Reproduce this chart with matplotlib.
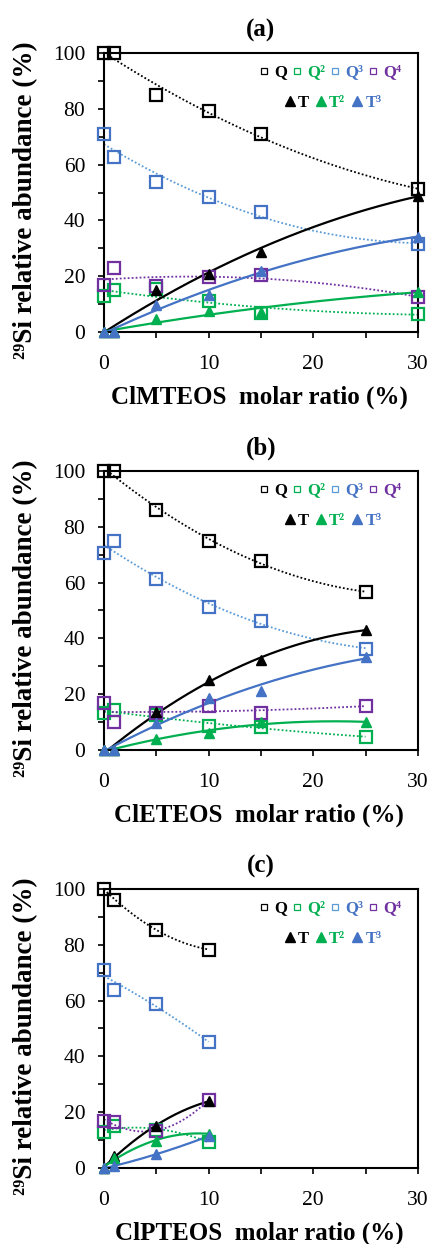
import numpy as np
import matplotlib

matplotlib.use("Agg")

from matplotlib import pyplot as plt
from matplotlib.lines import Line2D
from matplotlib.ticker import MultipleLocator

plt.rcParams['font.family'] = ['Liberation Serif', 'DejaVu Serif']

# (a) ClMTEOS
x_a = [0, 1, 5, 10, 15, 30]
q_a = [100, 100, 85, 79.3, 70.9, 51.1]
q2_a = [13, 14.9, 15.5, 11, 6.8, 6.6]
q3_a = [70.9, 62.8, 53.9, 48.5, 42.9, 31.5]
q4_a = [16.9, 23.1, 16.6, 19.7, 20.5, 12.4]
t_a = [0, 0, 14.9, 20.9, 28.8, 48.9]
t2_a = [0, 0, 4.6, 7.4, 7.0, 14.5]
t3_a = [0, 0, 9.8, 13.3, 22.0, 34.2]

# (b) ClETEOS
x_b = [0, 1, 5, 10, 15, 25]
q_b = [100, 100, 86.0, 75.0, 67.9, 56.5]
q2_b = [13.1, 14.3, 12.7, 8.6, 8.1, 4.8]
q3_b = [70.6, 75.0, 61.3, 51.2, 46.4, 36.3]
q4_b = [16.7, 10.1, 13.1, 15.7, 13.3, 15.8]
t_b = [0, 0, 13.5, 25.0, 32.4, 43.1]
t2_b = [0, 0, 3.8, 6.2, 10.1, 9.9]
t3_b = [0, 0, 9.8, 18.8, 21.1, 33.3]

# (c) ClPTEOS
x_c = [0, 1, 5, 10]
q_c = [100, 96.2, 85.4, 78.3]
q2_c = [12.9, 15.0, 13.7, 9.3]
q3_c = [70.8, 63.9, 58.9, 45.0]
q4_c = [16.7, 16.5, 13.1, 24.5]
t_c = [0, 4.2, 15.2, 23.9]
t2_c = [0, 3.6, 9.8, 12.3]
t3_c = [0, 0.6, 5.0, 11.4]

BLACK = "black"
GREEN = "#00B050"
BLUE = "#4472C4"
LBLUE = "#5B9BD5"
PURPLE = "#7030A0"


def trend(ax, x, y, color, ls, lw):
    xs = np.linspace(0, max(x), 200)
    ax.plot(xs, np.polyval(np.polyfit(x, y, 2), xs), color=color, ls=ls, lw=lw, zorder=2)


def draw_panel(ax, tag, name, x, q, q2, q3, q4, t, t2, t3):
    for y, lc in [(q, BLACK), (q2, GREEN), (q3, LBLUE), (q4, PURPLE)]:
        trend(ax, x, y, lc, (0, (1, 1.2)), 1.3)
    for y, c in [(t, BLACK), (t2, GREEN), (t3, BLUE)]:
        trend(ax, x, y, c, "-", 1.6)
    for y, c in [(q, BLACK), (q2, GREEN), (q3, BLUE), (q4, PURPLE)]:
        ax.plot(x, y, ls="none", marker="s", ms=8.5, mfc="none", mec=c, mew=1.6,
                zorder=3, clip_on=False)
    for y, c in [(t, BLACK), (t2, GREEN), (t3, BLUE)]:
        ax.plot(x, y, ls="none", marker="^", ms=7.5, color=c, zorder=4, clip_on=False)

    ax.set_xlim(0, 30)
    ax.set_ylim(0, 100)
    ax.xaxis.set_major_locator(MultipleLocator(10))
    ax.xaxis.set_minor_locator(MultipleLocator(5))
    ax.yaxis.set_major_locator(MultipleLocator(20))
    ax.yaxis.set_minor_locator(MultipleLocator(10))
    ax.tick_params(which="both", direction="out", length=4.5, width=1.2, labelsize=15.5)
    ax.tick_params(axis="x", which="both", pad=12)
    ax.tick_params(axis="y", which="both", pad=9)
    for s in ax.spines.values():
        s.set_linewidth(1.5)

    ax.set_title(tag, fontsize=18, fontweight="bold", pad=12)
    ax.set_xlabel(name + "  molar ratio (%)", fontsize=18, fontweight="bold", va="center")
    ax.xaxis.set_label_coords(0.494, -0.233)
    ax.set_ylabel("²⁹Si relative abundance (%)", fontsize=19.5, fontweight="bold", va="center")
    ax.yaxis.set_label_coords(-0.25, 0.473)

    sq = [Line2D([], [], ls="none", marker="s", ms=5, mfc="none", mec=c, mew=0.9)
          for c in (BLACK, GREEN, LBLUE, PURPLE)]
    leg1 = ax.legend(sq, ["Q", "Q²", "Q³", "Q⁴"], loc="center", bbox_to_anchor=(0.72, 0.93),
                     ncol=4, frameon=False, handlelength=0.6, handletextpad=0.3,
                     columnspacing=0.3, borderpad=0,
                     prop={"size": 12, "weight": "bold"})
    for txt, c in zip(leg1.get_texts(), (BLACK, GREEN, BLUE, PURPLE)):
        txt.set_color(c)
    ax.add_artist(leg1)
    tr = [Line2D([], [], ls="none", marker="^", ms=7, color=c) for c in (BLACK, GREEN, BLUE)]
    leg2 = ax.legend(tr, ["T", "T²", "T³"], loc="center", bbox_to_anchor=(0.73, 0.82),
                     ncol=3, frameon=False, handlelength=0.6, handletextpad=0.2,
                     columnspacing=0.4, borderpad=0,
                     prop={"size": 12, "weight": "bold"})
    for txt, c in zip(leg2.get_texts(), (BLACK, GREEN, BLUE)):
        txt.set_color(c)


def main():
    fig = plt.figure(figsize=(4.33, 12.44), dpi=100)
    left, width, height = 0.240, 0.725, 0.2243
    ax_a = fig.add_axes([left, 0.7331, width, height])
    ax_b = fig.add_axes([left, 0.3971, width, height])
    ax_c = fig.add_axes([left, 0.0611, width, height])

    draw_panel(ax_a, "(a)", "ClMTEOS", x_a, q_a, q2_a, q3_a, q4_a, t_a, t2_a, t3_a)
    draw_panel(ax_b, "(b)", "ClETEOS", x_b, q_b, q2_b, q3_b, q4_b, t_b, t2_b, t3_b)
    draw_panel(ax_c, "(c)", "ClPTEOS", x_c, q_c, q2_c, q3_c, q4_c, t_c, t2_c, t3_c)

    fig.savefig("out.png", dpi=100)
    plt.close(fig)


if __name__ == "__main__":
    main()
